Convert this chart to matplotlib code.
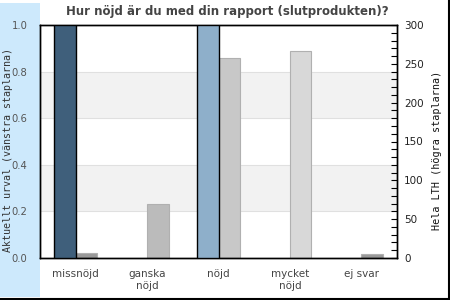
import numpy as np
import matplotlib
matplotlib.use("Agg")
import matplotlib.pyplot as plt
from matplotlib.patches import Rectangle
from matplotlib.lines import Line2D
from matplotlib.ticker import MultipleLocator

# Data
categories = ["missnöjd", "ganska\nnöjd", "nöjd", "mycket\nnöjd", "ej svar"]
urval = [1.0, 0.0, 1.0, 0.0, 0.0]          # left axis (share)
hela_lth = [7, 70, 258, 267, 5]             # right axis (count)

left_colors = ["#3f5f7b", "#3f5f7b", "#8eafca", "#8eafca", "#8eafca"]
right_colors = ["#999999", "#bbbbbb", "#c8c8c8", "#d8d8d8", "#999999"]

fig = plt.figure(figsize=(4.5, 3), dpi=100)

# light blue strip on the left and the frame lines
fig.patches.append(Rectangle((0, 0.01), 40 / 450, 0.98, transform=fig.transFigure,
                             facecolor="#cde9fc", edgecolor="none", zorder=-10))
fig.add_artist(Line2D([0, 1], [0.002, 0.002], color="black", lw=1.5, transform=fig.transFigure))
fig.add_artist(Line2D([0.998, 0.998], [0, 1], color="black", lw=1.5, transform=fig.transFigure))

ax2 = fig.add_axes([40 / 450, 42 / 300, 357 / 450, 233 / 300])
ax = ax2.twinx()   # left-scale axes drawn on top

x = np.arange(len(categories))
w = 0.3

# background bands and grid lines (on the back axes, right scale 0-300)
for lo in (60, 180):
    ax2.axhspan(lo, lo + 60, color="#f2f2f2", zorder=0, lw=0)
for g in (60, 120, 180, 240):
    ax2.axhline(g, color="#e0e0e0", lw=0.8, zorder=0.5)

for i in range(len(categories)):
    if urval[i] > 0:
        ax.bar(x[i] - w / 2, urval[i], width=w, color=left_colors[i],
               edgecolor="black", linewidth=1.0, zorder=3)
    ax2.bar(x[i] + w / 2, hela_lth[i], width=w, color=right_colors[i],
            edgecolor="#b0b0b0", linewidth=0.8, zorder=2)

ax2.set_xlim(-0.5, len(categories) - 0.5)
ax.set_ylim(0, 1.0)
ax2.set_ylim(0, 300)

ax2.set_xticks(x)
ax2.set_xticklabels(categories, color="#444444", fontsize=7.5)
ax2.tick_params(axis="x", length=0, pad=8)

ax.set_yticks([0, 0.2, 0.4, 0.6, 0.8, 1.0])
ax.set_yticklabels(["0.0", "0.2", "0.4", "0.6", "0.8", "1.0"])
ax.tick_params(axis="y", left=True, right=False, labelleft=True, labelright=False,
               length=0, pad=9, labelsize=7.2, labelcolor="#555555")

ax2.yaxis.set_major_locator(MultipleLocator(50))
ax2.yaxis.set_minor_locator(MultipleLocator(10))
ax2.tick_params(axis="y", which="both", left=False, right=True, labelleft=False,
                labelright=True, direction="in", length=4, width=0.8,
                labelsize=7.5, labelcolor="#222222", pad=5)

for a in (ax, ax2):
    for s in a.spines.values():
        s.set_color("black")
        s.set_linewidth(1.0)

ax.patch.set_visible(False)
ax2.patch.set_facecolor("white")

fig.text(8 / 450, 0.5, "Aktuellt urval (vänstra staplarna)", rotation=90,
         family="DejaVu Sans Mono", fontsize=7.2, color="#333333",
         ha="center", va="center")
fig.text(437 / 450, 0.5, "Hela LTH (högra staplarna)", rotation=90,
         family="DejaVu Sans Mono", fontsize=7.3, color="#111111",
         ha="center", va="center")

fig.text(227 / 450, 1 - 12 / 300, "Hur nöjd är du med din rapport (slutprodukten)?",
         fontsize=8.5, fontweight="bold", color="#444444", ha="center", va="center")

fig.savefig("out.png", dpi=100)
